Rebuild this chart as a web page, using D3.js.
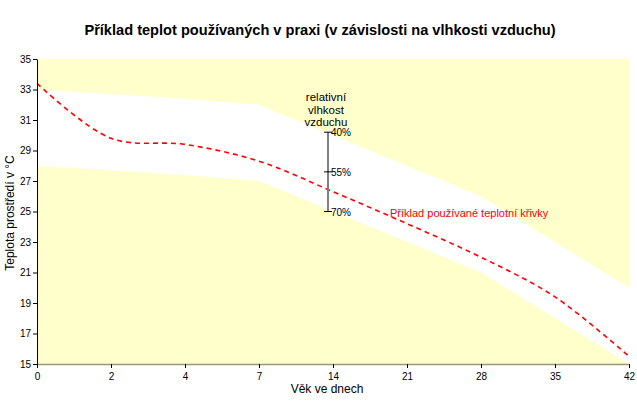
<!DOCTYPE html>
<html><head><meta charset="utf-8">
<script src="https://cdn.jsdelivr.net/npm/d3@7"></script>
<style>body{margin:0;background:#fff}svg{display:block;font-family:Arial,"Liberation Sans",sans-serif}</style>
</head><body>
<script>
const days = ["0","2","4","7","14","21","28","35","42"];
const upperBound = [33, 32.7, 32.4, 32, 30, 28, 26, 23, 20];
const lowerBound = [28, 27.7, 27.4, 27, 25, 23, 21, 18, 15];
const curve = [33.4, 29.8, 29.4, 28.3, 26.3, 24.2, 22.0, 19.4, 15.5];
const yTicks = [15,17,19,21,23,25,27,29,31,33,35];
const humidityLabels = ["40%","55%","70%"];
const humidityTemps = [30.2, 27.6, 25];
const humidityDay = "14";

const W=637,H=408;
const svg=d3.select("body").append("svg").attr("width",W).attr("height",H);
const x=d3.scalePoint().domain(days).range([37,629]);
const y=d3.scaleLinear().domain([15,35]).range([364,59]);

svg.append("text").attr("x",320).attr("y",35).attr("text-anchor","middle")
  .attr("font-size",14.6).attr("font-weight","bold").text("Příklad teplot používaných v praxi (v závislosti na vlhkosti vzduchu)");

// plot background
svg.append("rect").attr("x",37).attr("y",y(35)).attr("width",629-37).attr("height",y(15)-y(35)).attr("fill","#ffffcc");

const band=days.map((d,i)=>({d,lo:lowerBound[i],hi:upperBound[i]}));
svg.append("path").datum(band).attr("fill","#ffffff")
  .attr("d",d3.area().x(p=>x(p.d)).y0(p=>y(p.lo)).y1(p=>y(p.hi)));

// curve
svg.append("path").datum(days.map((d,i)=>({d,v:curve[i]})))
  .attr("fill","none").attr("stroke","#ff0000").attr("stroke-width",1.6).attr("stroke-dasharray","5,4")
  .attr("d",d3.line().x(p=>x(p.d)).y(p=>y(p.v)).curve(d3.curveCatmullRom.alpha(0.5)));

// axes
const yAxis=svg.append("g").attr("transform","translate(37,0)")
  .call(d3.axisLeft(y).tickValues(yTicks).tickSize(4).tickSizeOuter(0));
yAxis.select(".domain").attr("stroke","#000");
yAxis.selectAll("text").attr("font-size",10).attr("font-family","Arial, Liberation Sans, sans-serif").attr("fill","#000").attr("x",-6);
const xAxis=svg.append("g").attr("transform","translate(0,364)")
  .call(d3.axisBottom(x).tickSize(4).tickSizeOuter(0));
xAxis.select(".domain").attr("stroke","#999977").attr("stroke-width",1.5);
xAxis.selectAll(".tick line").attr("stroke","#000");
xAxis.selectAll("text").attr("font-size",10).attr("font-family","Arial, Liberation Sans, sans-serif").attr("fill","#000").attr("y",9);

svg.append("text").attr("x",327).attr("y",393).attr("text-anchor","middle").attr("font-size",12).text("Věk ve dnech");
svg.append("text").attr("transform","translate(14,213) rotate(-90)").attr("text-anchor","middle").attr("font-size",12).text("Teplota prostředí v °C");

// humidity scale
const hx=x(humidityDay)-5;
svg.append("line").attr("x1",hx).attr("x2",hx).attr("y1",y(humidityTemps[0])).attr("y2",y(humidityTemps[2]))
  .attr("stroke","#808080").attr("stroke-width",2);
humidityTemps.forEach((t,i)=>{
  svg.append("line").attr("x1",hx-4).attr("x2",hx+4).attr("y1",y(t)).attr("y2",y(t)).attr("stroke","#000");
  svg.append("text").attr("x",hx+3).attr("y",y(t)+4).attr("font-size",10).text(humidityLabels[i]);
});
["relativní","vlhkost","vzduchu"].forEach((s,i)=>{
  svg.append("text").attr("x",hx-2).attr("y",101+i*12.5).attr("text-anchor","middle").attr("font-size",11.5).text(s);
});
svg.append("text").attr("x",390).attr("y",217).attr("font-size",11).attr("fill","#ff0000").text("Příklad používané teplotní křivky");
</script>
</body></html>
